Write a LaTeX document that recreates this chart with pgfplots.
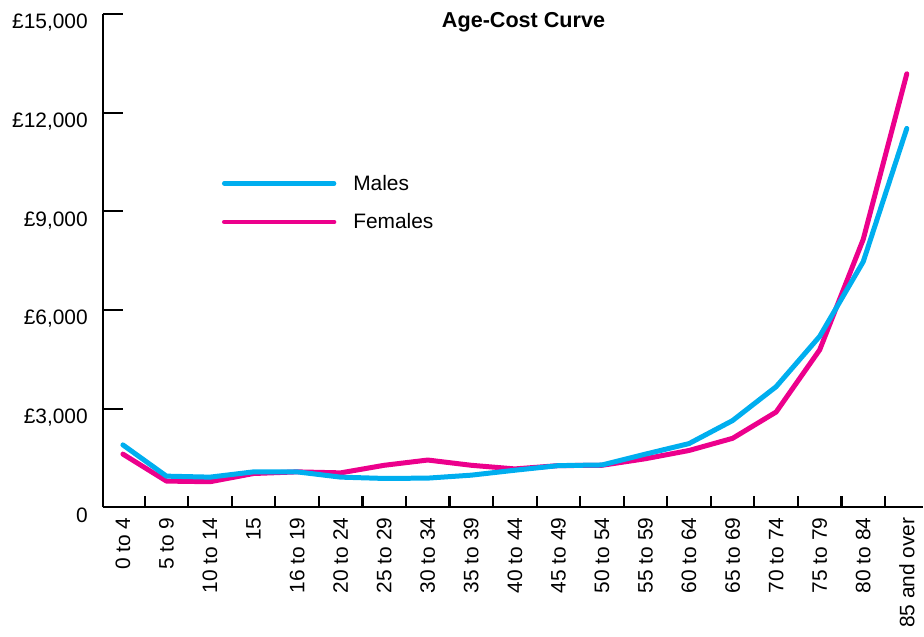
\documentclass[border=0pt]{standalone}
\usepackage{fontspec}
\setmainfont{Liberation Sans}
\usepackage{pgfplots}
\pgfplotsset{compat=1.18}
\definecolor{mcyan}{HTML}{00AEEF}
\definecolor{mmag}{HTML}{EC008C}
\begin{document}
\begin{tikzpicture}
\begin{axis}[
  name=ax,
  scale only axis,
  width=821bp, height=494bp,
  xmin=-0.46, xmax=18.37,
  ymin=0, ymax=15000,
  clip=false,
  scaled y ticks=false,
  axis x line*=bottom, axis y line*=left,
  axis line style={line width=2.2bp, black},
  /pgf/number format/assume math mode=true,
  tick align=inside,
  tick style={line width=2.2bp, black},
  major tick length=20bp,
  minor tick length=11bp,
  ytick={0,3000,6000,9000,12000,15000},
  yticklabels={0,{£3,000},{£6,000},{£9,000},{£12,000},{£15,000}},
  yticklabel style={anchor=north east, inner sep=0pt, xshift=-15bp, font=\fontsize{21}{25}\selectfont},
  xtick={0,...,18},
  xticklabels={0 to 4,5 to 9,10 to 14,15,16 to 19,20 to 24,25 to 29,30 to 34,35 to 39,40 to 44,45 to 49,50 to 54,55 to 59,60 to 64,65 to 69,70 to 74,75 to 79,80 to 84,85 and over},
  major x tick style={/pgfplots/major tick length=0pt, draw=none},
  minor xtick={0.5,1.5,...,17.5},
  xticklabel style={yshift=-10bp, rotate=90, anchor=east, inner sep=0pt, font=\fontsize{21}{25}\selectfont},
  reverse legend,
  legend cell align=left,
  legend image code/.code={\draw[#1, line width=4.5bp, line cap=round] (0bp,0bp) -- (110bp,0bp);},
  legend style={at={(0.145,0.674)}, anchor=north west, draw=none, fill=none, inner sep=0pt,
    row sep=22bp, column sep=17bp,
    nodes={inner sep=0pt, anchor=west, font=\fontsize{21}{25}\selectfont}},
]
\addplot[mmag, line width=5bp, line join=round, line cap=round] coordinates {
(0,1620) (1,800) (2,780) (3,1030) (4,1080) (5,1050) (6,1280) (7,1440) (8,1280) (9,1170)
(10,1270) (11,1280) (12,1480) (13,1730) (14,2100) (15,2900) (16,4790) (17,8150) (18,13180)};
\addlegendentry{Females}
\addplot[mcyan, line width=5bp, line join=round, line cap=round] coordinates {
(0,1900) (1,950) (2,920) (3,1080) (4,1080) (5,920) (6,880) (7,890) (8,980) (9,1130)
(10,1270) (11,1290) (12,1620) (13,1940) (14,2640) (15,3670) (16,5200) (17,7470) (18,11520)};
\addlegendentry{Males}
\node[font=\bfseries\fontsize{21.7}{26}\selectfont, anchor=center] at (rel axis cs:0.513,0.984) {Age-Cost Curve};
\end{axis}
\path (ax.south west) ++(-103bp,-129bp) rectangle ++(924bp,637bp);
\end{tikzpicture}
\end{document}
